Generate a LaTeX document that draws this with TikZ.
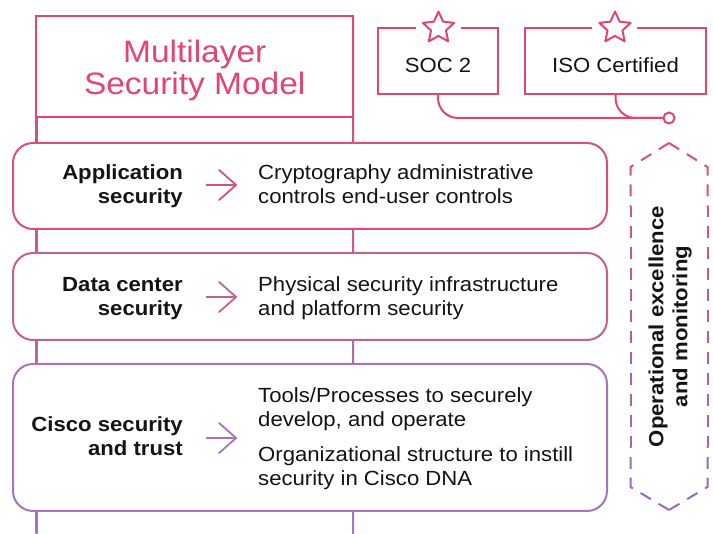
\documentclass[tikz,border=0pt]{standalone}
\usepackage{fontspec}
\setmainfont{Liberation Sans}[FakeStretch=1.08]
\usetikzlibrary{shapes.geometric,arrows.meta}
\definecolor{cpink}{HTML}{E2466E}
\definecolor{capp}{HTML}{D8517A}
\definecolor{cdata}{HTML}{C3628F}
\definecolor{ccisco}{HTML}{A676B9}
\definecolor{cbot}{HTML}{9C7AC2}
\definecolor{hextop}{HTML}{DC4F78}
\definecolor{hexbot}{HTML}{9A6CB6}
\definecolor{ink}{HTML}{141414}
\begin{document}
\begin{tikzpicture}[x=1pt,y=-1pt,
  body/.style={font=\fontsize{20.5}{24}\selectfont, text=ink, inner sep=0pt},
  lbl/.style={body, font=\fontsize{20.5}{24}\selectfont\bfseries, align=right, anchor=base east},
  desc/.style={body, align=left, anchor=base west},
  layer/.style={draw, line width=2pt, fill=white, rounded corners=20pt, minimum width=594pt, inner sep=0pt},
  arr/.style={line width=1.8pt, -{Straight Barb[length=17pt,width=30pt,line cap=round,line join=round]}},
  cert/.style={draw=cpink, line width=2pt, fill=white, minimum height=66pt, inner sep=0pt},
  starmark/.style={star, star points=5, star point ratio=2.1, minimum size=33pt, inner sep=0pt, draw=cpink, line width=2pt, line join=round, fill=white},
  conn/.style={draw=cpink, line width=2pt, rounded corners=20pt},
  hexseg/.style={line width=2pt, dash pattern=on 12pt off 8.95pt}
]
\useasboundingbox (0,0) rectangle (713,534);
% rails
\shade[top color=cpink, bottom color=cbot] (35.5,16) rectangle (37.5,534);
\shade[top color=cpink, bottom color=cbot] (352,16) rectangle (354,534);
% title box
\node (titlebox) [draw=cpink, line width=2pt, fill=white, minimum width=317pt, minimum height=101pt, inner sep=0pt] at (194.75,66.5) {};
\node (title) [font=\fontsize{31}{32}\selectfont, text=cpink, align=center, anchor=base, inner sep=0pt] at (194.75,95) {Multilayer\\Security Model};
% layers
\node (layA) [layer, draw=capp, minimum height=86pt] at (310,186) {};
\node (layB) [layer, draw=cdata, minimum height=87pt] at (310,296.5) {};
\node (layC) [layer, draw=ccisco, minimum height=147pt] at (310,437.5) {};
\node (lblA) [lbl] at (183,204) {Application\\security};
\node (descA) [desc] at (258,204) {Cryptography administrative\\controls end-user controls};
\node (lblB) [lbl] at (183,316) {Data center\\security};
\node (descB) [desc] at (258,316) {Physical security infrastructure\\and platform security};
\node (lblC) [lbl] at (183,456) {Cisco security\\and trust};
\node (descC) [desc] at (258,486) {Tools/Processes to securely\\develop, and operate\\[11pt]Organizational structure to instill\\security in Cisco DNA};
\coordinate (aAs) at (206,185); \coordinate (aAe) at (237,185);
\coordinate (aBs) at (206,297); \coordinate (aBe) at (237,297);
\coordinate (aCs) at (206,438); \coordinate (aCe) at (237,438);
\draw[arr, capp] (aAs) -- (aAe);
\draw[arr, cdata] (aBs) -- (aBe);
\draw[arr, ccisco] (aCs) -- (aCe);
% certificates
\node (soc) [cert, minimum width=120pt] at (438,61) {};
\node (iso) [cert, minimum width=181pt] at (615.5,61) {};
\node (soct) [body, anchor=base] at (438,73) {SOC 2};
\node (isot) [body, anchor=base] at (615.5,73) {ISO Certified};
\fill[white] (416,24) rectangle (461,32);
\fill[white] (592,24) rectangle (637,32);
\node (socstar) [starmark] at (438.5,28) {};
\node (isostar) [starmark] at (615,28) {};
\node (dot) [circle, draw=cpink, line width=2pt, fill=white, minimum size=11pt, inner sep=0pt] at (669,118) {};
\draw[conn] (soc.south) |- (dot.west);
\draw[conn] (iso.south) |- (dot.west);
% hexagon (dashed, colour shifting downwards)
\coordinate (hT) at (669,143);
\coordinate (hUR) at (707.5,167);
\coordinate (hLR) at (707.5,487);
\coordinate (hB) at (669,510);
\coordinate (hLL) at (630.5,487);
\coordinate (hUL) at (630.5,167);
\foreach \c in {hUR,hUL}{
  \draw[hexseg, hextop] (hT) -- (\c) -- ([yshift=-40pt]\c);
  \draw[hexseg, hextop!75!hexbot, dash phase=85.4pt] ([yshift=-40pt]\c) -- ([yshift=-120pt]\c);
  \draw[hexseg, hextop!50!hexbot, dash phase=165.4pt] ([yshift=-120pt]\c) -- ([yshift=-200pt]\c);
  \draw[hexseg, hextop!25!hexbot, dash phase=245.4pt] ([yshift=-200pt]\c) -- ([yshift=-280pt]\c);
}
\draw[hexseg, hexbot, dash phase=325.4pt] ([yshift=-280pt]hUR) -- (hLR) -- (hB);
\draw[hexseg, hexbot, dash phase=325.4pt] ([yshift=-280pt]hUL) -- (hLL) -- (hB);
\node (ops) [body, font=\fontsize{20.5}{24}\selectfont\bfseries, align=center, rotate=90] at (670,326.5) {Operational excellence\\and monitoring};
\end{tikzpicture}
\end{document}
